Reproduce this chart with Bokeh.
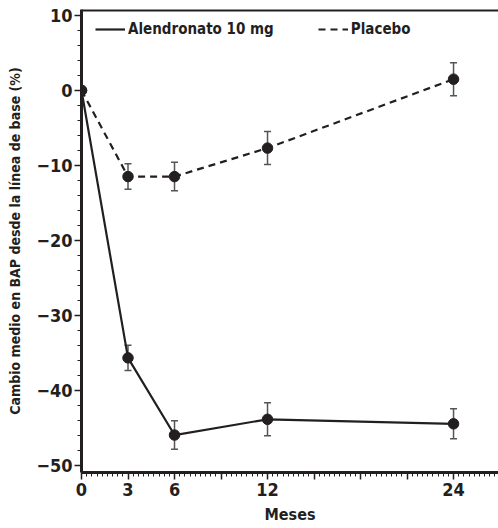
from bokeh.plotting import figure
from bokeh.models import (ColumnDataSource, Whisker, FixedTicker, Range1d, Span,
                          Legend, LegendItem)
from bokeh.embed import file_html
from bokeh.resources import INLINE

months = [0, 3, 6, 12, 24]
alendronato = [0.0, -35.7, -46.0, -43.9, -44.5]
alendronato_err = [0.0, 1.7, 1.9, 2.2, 2.0]
placebo = [0.0, -11.5, -11.5, -7.7, 1.5]
placebo_err = [0.0, 1.7, 1.9, 2.2, 2.2]
x_major = [0, 3, 6, 9, 12, 15, 18, 21, 24, 27]
x_labels = {0: "0", 3: "3", 6: "6", 12: "12", 24: "24"}
y_major = [-50, -40, -30, -20, -10, 0, 10]

FONT = "DejaVu Sans Condensed"
INK = "#231f20"

p = figure(width=498, height=528, output_backend="svg", toolbar_location=None,
           x_range=Range1d(0, 26.9), y_range=Range1d(-51.0, 10.8),
           min_border_left=81, min_border_right=0, min_border_top=9, min_border_bottom=56)
p.outline_line_color = None
p.grid.visible = False
p.background_fill_color = "white"

def src(vals, errs):
    return ColumnDataSource(dict(x=months, y=vals,
                                 lo=[v - e for v, e in zip(vals, errs)],
                                 hi=[v + e for v, e in zip(vals, errs)]))

s_a = src(alendronato, alendronato_err)
s_p = src(placebo, placebo_err)

for s in (s_a, s_p):
    w = Whisker(source=s, base="x", lower="lo", upper="hi", line_color="#555555",
                line_width=1.5)
    for h in (w.upper_head, w.lower_head):
        h.size = 7
        h.line_color = "#555555"
        h.line_width = 1.5
    p.add_layout(w)

la = p.line("x", "y", source=s_a, line_color=INK, line_width=2.2)
lp = p.line("x", "y", source=s_p, line_color=INK, line_width=2.2, line_dash="7 5")
p.scatter("x", "y", source=s_a, size=10.5, color=INK)
p.scatter("x", "y", source=s_p, size=10.5, color=INK)

p.add_layout(Span(location=10.8, dimension="width", line_color=INK, line_width=4))

legend = Legend(items=[LegendItem(label="Alendronato 10 mg", renderers=[la]),
                       LegendItem(label="Placebo", renderers=[lp])],
                orientation="horizontal", location=(14, 433),
                border_line_color=None, background_fill_alpha=0,
                label_text_font=FONT, label_text_font_style="bold",
                label_text_font_size="15px", label_text_color=INK,
                glyph_width=30, spacing=44, label_standoff=3, padding=0, margin=0)
p.add_layout(legend)

p.xaxis.ticker = FixedTicker(ticks=x_major,
                             minor_ticks=[i / 3 for i in range(0, 82)])
p.xaxis.major_label_overrides = {t: x_labels.get(t, "") for t in x_major}
p.yaxis.ticker = FixedTicker(ticks=y_major, minor_ticks=list(range(-50, 12, 2)))

for ax in (p.xaxis[0], p.yaxis[0]):
    ax.axis_line_width = 3
    ax.axis_line_color = INK
    ax.major_tick_line_color = INK
    ax.minor_tick_line_color = INK
    ax.major_tick_line_width = 1.5
    ax.minor_tick_line_width = 1
    ax.major_tick_in = 0
    ax.major_tick_out = 7
    ax.minor_tick_in = 0
    ax.minor_tick_out = 4
    ax.major_label_text_font = FONT
    ax.major_label_text_font_style = "bold"
    ax.major_label_text_font_size = "18px"
    ax.major_label_text_color = INK
    ax.axis_label_text_font = FONT
    ax.axis_label_text_font_style = "bold"
    ax.axis_label_text_color = INK
    ax.axis_label_text_font_size = "14px"

p.xaxis.axis_label = "Meses"
p.xaxis.major_label_standoff = 3
p.xaxis.axis_label_standoff = 6
p.xaxis.axis_label_text_font_size = "16px"
p.yaxis.axis_label = "Cambio medio en BAP desde la línea de base (%)"
p.yaxis.major_label_standoff = 2
p.yaxis.axis_label_standoff = 10

open("out.html", "w").write(file_html(p, INLINE))
